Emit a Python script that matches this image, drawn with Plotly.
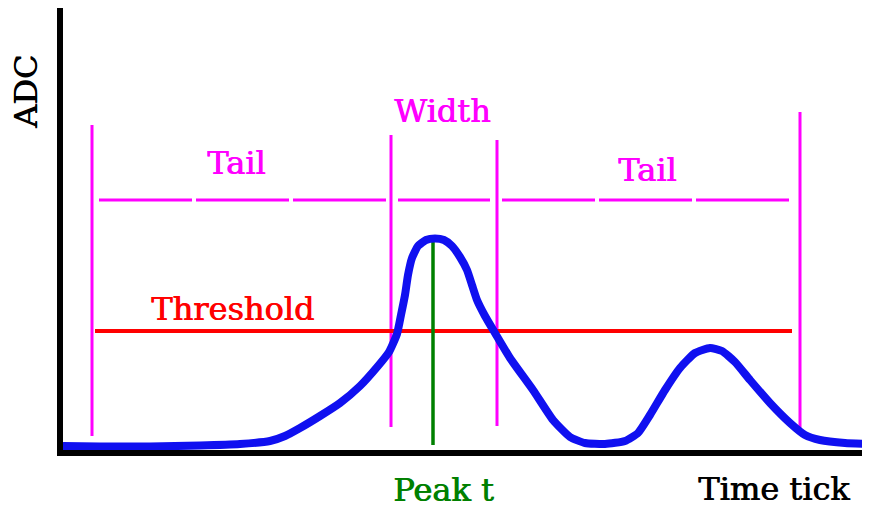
import plotly.graph_objects as go

# --- data (schematic units: x = time tick, y = ADC) ---
H = 450  # baseline reference (ADC = H - picture row)
signal_x = [63, 100, 150, 200, 240, 270, 285, 300, 320, 340, 360, 378, 389, 397, 401, 405, 408, 412, 418,
            426, 435, 444, 452, 460, 467, 472, 477, 485, 495, 510, 533, 553, 570, 585, 605, 625, 638, 650,
            665, 680, 695, 710, 722, 735, 750, 770, 790, 805, 820, 845, 870]
signal_py = [446, 446.5, 446.5, 445.5, 444, 441, 436, 428, 416, 403, 386, 366, 352, 334, 315, 295, 275, 258, 246,
             240, 238.5, 240, 246, 257, 270, 285, 300, 316, 333, 358, 390, 420, 437, 443, 444, 441, 433, 415,
             390, 368, 353, 348, 351, 362, 380, 403, 423, 435, 440, 443, 444]
signal_y = [H - v for v in signal_py]

tail_marks_x = [92, 391, 497, 800]
tail_marks_top = [125, 135, 140, 112]
tail_marks_bot = [436, 427, 426, 434]

width_line_py = 200
dash_segments = [(99, 386), (398, 490), (502, 792)]

threshold_py = 331
threshold_x = [95, 792]

peak_x = 433
peak_py = [241, 445]

# layout geometry (page has an 8px body margin)
PAGE_OFF = 8
PLOT_LEFT, PLOT_RIGHT, PLOT_TOP, PLOT_BOTTOM = 63, 870, 8, 450

def px_to_paper_x(px):
    return (px - PLOT_LEFT) / (PLOT_RIGHT - PLOT_LEFT)

def py_to_paper_y(py):
    return (PLOT_BOTTOM - py) / (PLOT_BOTTOM - PLOT_TOP)

fig = go.Figure()

MAG = "#FF00FF"
for x, t, b in zip(tail_marks_x, tail_marks_top, tail_marks_bot):
    fig.add_trace(go.Scatter(x=[x, x], y=[H - t, H - b], mode="lines",
                             line=dict(color=MAG, width=3), hoverinfo="skip"))
for x0, x1 in dash_segments:
    fig.add_trace(go.Scatter(x=[x0, x1], y=[H - width_line_py] * 2, mode="lines",
                             line=dict(color=MAG, width=3, dash="93px,4px"), hoverinfo="skip"))
fig.add_trace(go.Scatter(x=threshold_x, y=[H - threshold_py] * 2, mode="lines",
                         line=dict(color="#FF0000", width=4), hoverinfo="skip"))
fig.add_trace(go.Scatter(x=[peak_x, peak_x], y=[H - v for v in peak_py], mode="lines",
                         line=dict(color="#008000", width=3.5), hoverinfo="skip"))
fig.add_trace(go.Scatter(x=signal_x, y=signal_y, mode="lines",
                         line=dict(color="#1010F0", width=8, shape="spline", smoothing=0.5),
                         hoverinfo="skip"))

FONT = "DejaVu Serif"
labels = [
    ("Tail", 236, 163, MAG, 0),
    ("Width", 442, 111, MAG, 0),
    ("Tail", 647, 170, MAG, 0),
    ("Threshold", 232, 309, "#FF0000", 0),
    ("Peak t", 443, 490, "#008000", 0),
    ("Time tick", 774, 489, "#000000", 0),
    ("ADC", 26, 92, "#000000", -90),
]
for txt, x, py, col, ang in labels:
    fig.add_annotation(x=px_to_paper_x(x), y=py_to_paper_y(py), xref="paper", yref="paper",
                       text=txt, showarrow=False, textangle=ang,
                       font=dict(family=FONT, size=32, color=col,
                                 shadow=f"0.8px 0px 0px {col}"),
                       xanchor="center", yanchor="middle")

W, HH = 870 - PAGE_OFF, 508 - PAGE_OFF
fig.update_layout(
    width=W, height=HH,
    margin=dict(l=PLOT_LEFT - PAGE_OFF, r=0, t=PLOT_TOP - PAGE_OFF, b=HH - (PLOT_BOTTOM - PAGE_OFF), pad=0),
    paper_bgcolor="white", plot_bgcolor="white",
    showlegend=False,
    xaxis=dict(range=[PLOT_LEFT, PLOT_RIGHT], showgrid=False, zeroline=False, showticklabels=False,
               ticks="", showline=True, linecolor="black", linewidth=6),
    yaxis=dict(range=[0, PLOT_BOTTOM - PLOT_TOP], showgrid=False, zeroline=False, showticklabels=False,
               ticks="", showline=True, linecolor="black", linewidth=6),
)

fig.write_html("out.html")
